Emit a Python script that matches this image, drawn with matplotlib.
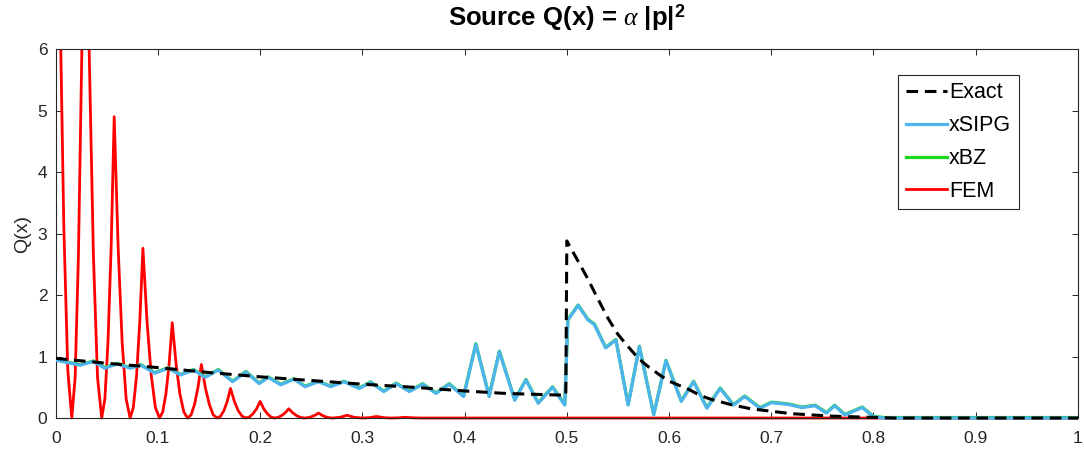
import matplotlib
matplotlib.use("Agg")
import matplotlib.pyplot as plt
import matplotlib.transforms as mtransforms
from matplotlib.patches import Rectangle

plt.rcParams['font.family'] = ['Liberation Sans', 'DejaVu Sans']
plt.rcParams['mathtext.fontset'] = 'custom'
plt.rcParams['mathtext.it'] = 'Liberation Serif:italic'
plt.rcParams['mathtext.rm'] = 'Liberation Sans'
plt.rcParams['mathtext.bf'] = 'Liberation Sans:bold'

# exact source term
exact_x = [0, 0.05, 0.1, 0.15, 0.2, 0.25, 0.3, 0.35, 0.4, 0.42, 0.44, 0.46, 0.48, 0.499,
           0.5, 0.51, 0.52, 0.53, 0.54, 0.55, 0.56, 0.57, 0.58, 0.59, 0.6,
           0.61, 0.62, 0.63, 0.64, 0.66, 0.68, 0.7, 0.72, 0.74, 0.76, 0.78, 0.8, 0.82, 1.0]
exact_y = [0.97, 0.89, 0.82, 0.74, 0.67, 0.61, 0.55, 0.50, 0.44, 0.42, 0.40, 0.39, 0.38, 0.37,
           2.88, 2.58, 2.28, 1.95, 1.63, 1.36, 1.16, 0.97, 0.83, 0.71, 0.60,
           0.53, 0.46, 0.37, 0.31, 0.22, 0.15, 0.11, 0.07, 0.05, 0.03, 0.02, 0.01, 0.0, 0.0]

# xSIPG (xBZ lies on top of it)
xsipg_x = [0, 0.012, 0.024, 0.037, 0.048, 0.060, 0.073, 0.083, 0.097, 0.110,
           0.122, 0.135, 0.146, 0.159, 0.173, 0.186, 0.199, 0.208, 0.220, 0.233,
           0.244, 0.257, 0.269, 0.282, 0.297, 0.308, 0.321, 0.333, 0.346, 0.359,
           0.372, 0.385, 0.399, 0.411, 0.424, 0.434, 0.449, 0.460, 0.472, 0.486,
           0.498, 0.501, 0.511, 0.521, 0.527, 0.538, 0.548, 0.560, 0.571, 0.585,
           0.597, 0.612, 0.624, 0.637, 0.650, 0.663, 0.674, 0.689, 0.700, 0.717,
           0.730, 0.743, 0.754, 0.762, 0.772, 0.789, 0.800, 0.810, 1.0]
xsipg_y = [0.94, 0.90, 0.86, 0.92, 0.81, 0.88, 0.81, 0.86, 0.73, 0.81,
           0.70, 0.78, 0.66, 0.78, 0.59, 0.75, 0.56, 0.66, 0.54, 0.63,
           0.51, 0.59, 0.51, 0.59, 0.48, 0.58, 0.43, 0.56, 0.43, 0.55,
           0.40, 0.55, 0.35, 1.20, 0.35, 1.08, 0.29, 0.62, 0.24, 0.50,
           0.21, 1.59, 1.83, 1.59, 1.52, 1.14, 1.27, 0.21, 1.16, 0.05,
           0.93, 0.27, 0.59, 0.16, 0.48, 0.21, 0.35, 0.16, 0.25, 0.22,
           0.17, 0.20, 0.08, 0.20, 0.05, 0.17, 0.02, 0.0, 0.0]
xbz_x = xsipg_x
xbz_y = xsipg_y

# FEM
fem_x = [0, 0.0039, 0.0079, 0.0118, 0.0157,
         0.0190, 0.0222, 0.0255, 0.0287,
         0.0328, 0.0369, 0.0409, 0.0450,
         0.0481, 0.0511, 0.0542, 0.0572,
         0.0611, 0.0650, 0.0689, 0.0728,
         0.0759, 0.0791, 0.0822, 0.0853,
         0.0894, 0.0935, 0.0975, 0.1016,
         0.1047, 0.1078, 0.1109, 0.1140,
         0.1178, 0.1215, 0.1253, 0.1290,
         0.1324, 0.1358, 0.1391, 0.1425,
         0.1464, 0.1503, 0.1541, 0.1580,
         0.1613, 0.1645, 0.1678, 0.1710,
         0.1748, 0.1785, 0.1823, 0.1860,
         0.1895, 0.1930, 0.1965, 0.2000,
         0.2035, 0.2070, 0.2105, 0.2140,
         0.2175, 0.2210, 0.2245, 0.2280,
         0.2318, 0.2355, 0.2393, 0.2430,
         0.2465, 0.2500, 0.2535, 0.2570,
         0.2605, 0.2640, 0.2675, 0.2710,
         0.2780, 0.2850, 0.2920, 0.3000,
         0.3070, 0.3140, 0.3210, 0.3280,
         0.3350, 0.3420, 0.3500, 0.3570,
         1.0]
fem_y = [12.5, 7.03, 3.13, 0.78, 0,
         0.66, 2.63, 5.91, 10.5,
         5.91, 2.63, 0.66, 0,
         0.31, 1.23, 2.76, 4.90,
         2.76, 1.23, 0.31, 0,
         0.17, 0.69, 1.55, 2.76,
         1.55, 0.69, 0.17, 0,
         0.10, 0.39, 0.87, 1.55,
         0.87, 0.39, 0.10, 0,
         0.05, 0.22, 0.49, 0.87,
         0.49, 0.22, 0.05, 0,
         0.03, 0.12, 0.27, 0.48,
         0.27, 0.12, 0.03, 0,
         0.017, 0.07, 0.15, 0.27,
         0.15, 0.07, 0.017, 0,
         0.01, 0.04, 0.085, 0.15,
         0.085, 0.04, 0.01, 0,
         0.005, 0.02, 0.045, 0.08,
         0.045, 0.02, 0.005, 0,
         0.011, 0.045, 0.011, 0,
         0.006, 0.025, 0.006, 0,
         0.003, 0.012, 0.003, 0,
         0]

x_ticks = [0, 0.1, 0.2, 0.3, 0.4, 0.5, 0.6, 0.7, 0.8, 0.9, 1]
x_ticklabels = ['0', '0.1', '0.2', '0.3', '0.4', '0.5', '0.6', '0.7', '0.8', '0.9', '1']
y_ticks = [0, 1, 2, 3, 4, 5, 6]

axis_gray = (0.15, 0.15, 0.15)

fig = plt.figure(figsize=(10.84, 4.57), dpi=100)
ax = fig.add_axes([0.0514, 0.0853, 0.943, 0.8074])

fem_line, = ax.plot(fem_x, fem_y, color=(1, 0, 0), lw=2.0, zorder=2, label='FEM')
green_tr = mtransforms.offset_copy(ax.transData, fig=fig, x=0, y=0.5, units='dots')
xbz_line, = ax.plot(xbz_x, xbz_y, color=(0.1, 0.85, 0.1), lw=2.3, zorder=3,
                    transform=green_tr, label='xBZ')
xsipg_line, = ax.plot(xsipg_x, xsipg_y, color='#4DB4EE', lw=2.3, zorder=4, label='xSIPG')
exact_line, = ax.plot(exact_x, exact_y, color='k', lw=2.2, ls=(0, (3.8, 2.2)), zorder=5,
                      label='Exact')

# let lines lying on y=0 show their full width
clip_rect = Rectangle((0, -0.012), 1, 1.012, transform=ax.transAxes)
for ln in (fem_line, xbz_line, xsipg_line, exact_line):
    ln.set_clip_path(clip_rect)

ax.set_xlim(0, 1)
ax.set_ylim(0, 6)
ax.set_xticks(x_ticks)
ax.set_xticklabels(x_ticklabels)
ax.set_yticks(y_ticks)
ax.tick_params(direction='in', top=True, right=True, length=4.5, width=0.7,
               color=axis_gray, labelcolor=axis_gray, labelsize=12.5)
ax.tick_params(axis='x', pad=9)
ax.tick_params(axis='y', pad=6)
for sp in ax.spines.values():
    sp.set_color(axis_gray)
    sp.set_linewidth(0.8)

ax.set_ylabel('Q(x)', fontsize=14, color=axis_gray, labelpad=5)
ax.set_title(r'Source Q(x) = $\alpha$ |p|$^{\mathbf{2}}$', fontsize=18.5, fontweight='bold',
             pad=17)

leg = ax.legend(handles=[exact_line, xsipg_line, xbz_line, fem_line], loc='upper right',
                bbox_to_anchor=(0.942, 0.93), fontsize=15.5, frameon=True, fancybox=False,
                edgecolor=axis_gray, framealpha=1, handlelength=1.9, handletextpad=0.1,
                labelspacing=0.55, borderpad=0.35, borderaxespad=0)
leg.get_frame().set_linewidth(0.8)

fig.savefig('out.png', dpi=100, facecolor='white')
